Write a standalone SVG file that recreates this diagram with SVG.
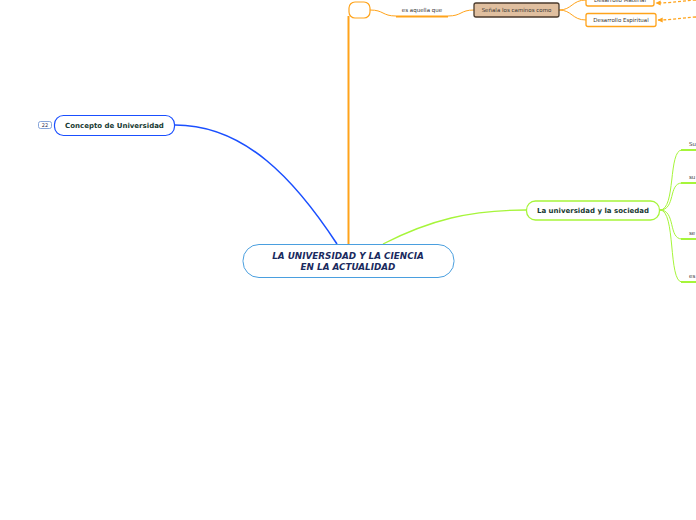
<svg xmlns="http://www.w3.org/2000/svg" width="696" height="520" viewBox="0 0 696 520">
<defs>
<style>
.t{font-family:"DejaVu Sans","Liberation Sans",sans-serif;}
.main{font-size:8.8px;font-weight:bold;font-style:italic;fill:#1a2a5e;}
.bold{font-size:7px;font-weight:bold;fill:#173a32;}
.small{font-size:5.5px;fill:#333;}
.or{fill:none;stroke:#ffa31a;}
.gr{fill:none;stroke:#a6f53a;}
</style>
<marker id="arr" viewBox="0 0 10 10" refX="9" refY="5" markerWidth="4" markerHeight="4" orient="auto">
<path d="M0,0 L10,5 L0,10 z" fill="#ffa31a"/>
</marker>
</defs>
<rect width="696" height="520" fill="#fff"/>
<g id="connectors">
<path d="M337,244 C295,180 245,125 175,125" fill="none" stroke="#1a4fff" stroke-width="1.6"/>
<path class="or" d="M348.5,244 V16" stroke-width="2"/>
<path class="or" d="M370,10 C384,10 382,16 396,16" stroke-width="1"/>
<path class="or" d="M396,16.5 H448" stroke-width="2"/>
<path class="or" d="M448,16 C462,16 460,10 474,10" stroke-width="1"/>
<path class="or" d="M559,10 C572,10 572,0 586,0" stroke-width="1"/>
<path class="or" d="M559,10 C572,10 572,20 586,20" stroke-width="1"/>
<path class="or" d="M696,17 C680,18 672,20 658,20" stroke-width="1.3" stroke-dasharray="3,2" marker-end="url(#arr)"/>
<path class="or" d="M696,0 C680,1 672,3 656,3" stroke-width="1.3" stroke-dasharray="3,2" marker-end="url(#arr)"/>
<path class="gr" d="M383,244 C430,220 470,210 526,210" stroke-width="1.3"/>
<path class="gr" d="M660,210 C676,210 668,150 682,150" stroke-width="1"/>
<path class="gr" d="M660,210 C676,210 668,183 682,183" stroke-width="1"/>
<path class="gr" d="M660,210 C676,210 668,239 682,239" stroke-width="1"/>
<path class="gr" d="M660,210 C676,210 668,282 682,282" stroke-width="1"/>
<path class="gr" d="M681,150 H696 M681,183 H696 M681,239 H696 M681,282 H696" stroke-width="2"/>
</g>
<g id="central">
<rect x="243" y="244.5" width="211" height="33" rx="16" fill="#fff" stroke="#4a9fdf" stroke-width="1"/>
<text class="t main" x="348" y="259" text-anchor="middle">LA UNIVERSIDAD Y LA CIENCIA</text>
<text class="t main" x="348" y="270" text-anchor="middle">EN LA ACTUALIDAD</text>
</g>
<g id="concepto">
<rect x="54.5" y="115.5" width="120" height="20" rx="9" fill="#fff" stroke="#1a4fff" stroke-width="1.2"/>
<text class="t bold" x="114.5" y="128" text-anchor="middle">Concepto de Universidad</text>
<rect x="38.5" y="121.5" width="13" height="7" rx="2" fill="#fff" stroke="#6a8fd0" stroke-width="0.8"/>
<text class="t" x="45" y="127" font-size="5" fill="#335" text-anchor="middle">22</text>
</g>
<g id="blank">
<rect x="349" y="2" width="21" height="16" rx="6" fill="#fff" stroke="#ffa31a" stroke-width="1.2"/>
</g>
<g id="es-aquella">
<text class="t small" x="422" y="12" text-anchor="middle">es aquella que</text>
</g>
<g id="senala">
<rect x="474" y="3" width="85" height="14" rx="2" fill="#e0bf9f" stroke="#4a3a2c" stroke-width="1.3"/>
<text class="t small" x="516.5" y="12" text-anchor="middle" fill="#6a5444">Señala los caminos como</text>
</g>
<g id="material">
<rect x="586" y="-6" width="68" height="12" rx="2" fill="#fff" stroke="#ffa31a" stroke-width="1.3"/>
<text class="t small" x="620" y="2" text-anchor="middle">Desarrollo Material</text>
</g>
<g id="espiritual">
<rect x="586" y="13.5" width="70" height="13" rx="2" fill="#fff" stroke="#ffa31a" stroke-width="1.3"/>
<text class="t small" x="621" y="22" text-anchor="middle">Desarrollo Espiritual</text>
</g>
<g id="sociedad">
<rect x="526.5" y="201" width="133" height="19" rx="9" fill="#fff" stroke="#a6f53a" stroke-width="1.3"/>
<text class="t bold" x="593" y="213" text-anchor="middle">La universidad y la sociedad</text>
</g>
<g id="su1"><text class="t small" x="689" y="146">Su</text></g>
<g id="su2"><text class="t small" x="689" y="179">su</text></g>
<g id="se"><text class="t small" x="689" y="235">se</text></g>
<g id="es"><text class="t small" x="689" y="278">es</text></g>
</svg>
